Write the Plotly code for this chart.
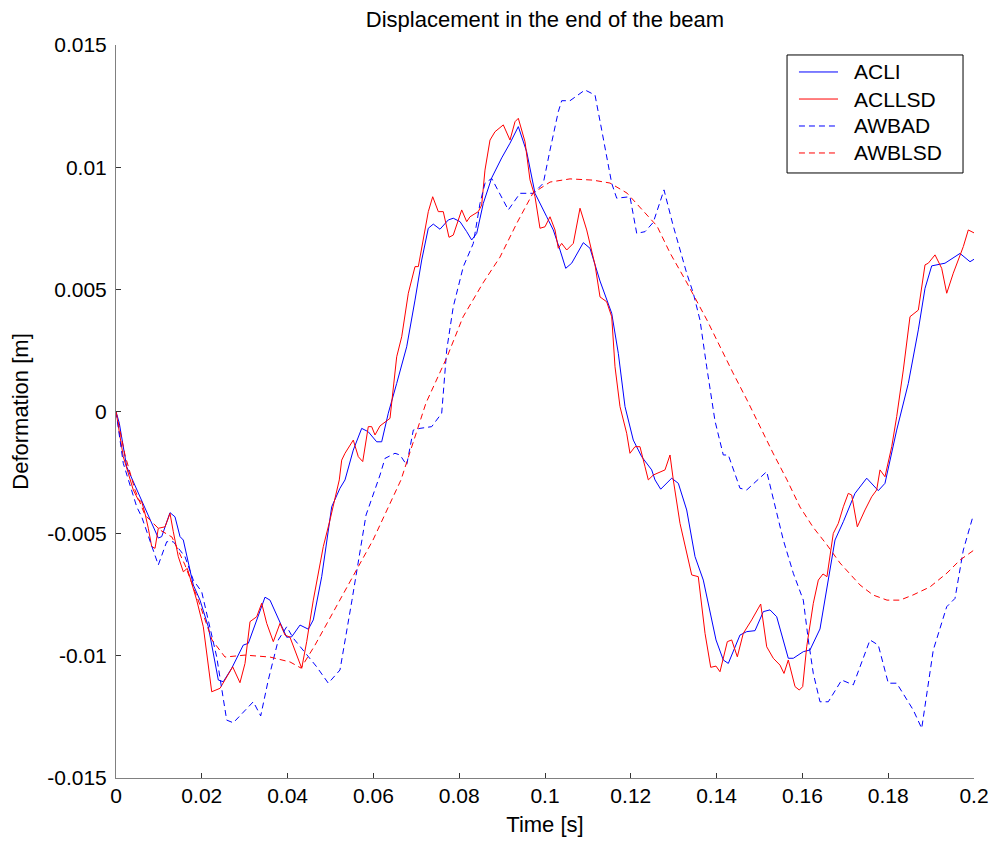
import plotly.graph_objects as go

# ---- ACLI (blue solid) ----
acli_t = [0, 0.00077, 0.00249, 0.00599, 0.00793, 0.00986, 0.01065, 0.01259, 0.01375, 0.01492,
          0.01569, 0.01802, 0.01958, 0.02152, 0.02385, 0.02501, 0.02697, 0.02967, 0.03084, 0.03280,
          0.03473, 0.03590, 0.03823, 0.03979, 0.04096, 0.04289, 0.04483, 0.04599, 0.04795, 0.05028,
          0.05221, 0.05338, 0.05531, 0.05727, 0.05881, 0.06077, 0.06193, 0.06347, 0.06543, 0.06776,
          0.06970, 0.07126, 0.07280, 0.07396, 0.07552, 0.07746, 0.07862, 0.08019, 0.08175, 0.08291,
          0.08408, 0.08562, 0.08757, 0.08991, 0.09184, 0.09378, 0.09573, 0.09767, 0.10040, 0.10193,
          0.10350, 0.10483, 0.10622, 0.10893, 0.11049, 0.11282, 0.11555, 0.11709, 0.11865, 0.12058,
          0.12254, 0.12487, 0.12564, 0.12697, 0.12953, 0.13108, 0.13303, 0.13497, 0.13690, 0.13886,
          0.13986, 0.14156, 0.14273, 0.14545, 0.14702, 0.14895, 0.15089, 0.15245, 0.15401, 0.15671,
          0.15788, 0.16021, 0.16177, 0.16410, 0.16604, 0.16760, 0.16954, 0.17226, 0.17499, 0.17769,
          0.17925, 0.18198, 0.18469, 0.18702, 0.18858, 0.19014, 0.19324, 0.19674, 0.19907, 0.2]
acli_v = [0, -0.00048, -0.00226, -0.00362, -0.00436, -0.00518, -0.00512, -0.00414, -0.00431, -0.00512,
          -0.00526, -0.00710, -0.00772, -0.00881, -0.01099, -0.01106, -0.01051, -0.00956, -0.00949, -0.00853,
          -0.00760, -0.00772, -0.00860, -0.00924, -0.00922, -0.00874, -0.00891, -0.00853, -0.00676, -0.00390,
          -0.00314, -0.00280, -0.00158, -0.00069, -0.00083, -0.00124, -0.00124, -0.00007, 0.00115, 0.00265,
          0.00456, 0.00620, 0.00750, 0.00767, 0.00746, 0.00784, 0.00791, 0.00777, 0.00736, 0.00702,
          0.00729, 0.00852, 0.00956, 0.01038, 0.01098, 0.01166, 0.01063, 0.00893, 0.00797, 0.00743,
          0.00661, 0.00586, 0.00607, 0.00691, 0.00668, 0.00534, 0.00402, 0.00238, 0.00020, -0.00117,
          -0.00185, -0.00239, -0.00280, -0.00318, -0.00273, -0.00294, -0.00403, -0.00594, -0.00690, -0.00853,
          -0.00935, -0.01017, -0.01031, -0.00915, -0.00901, -0.00897, -0.00819, -0.00812, -0.00840, -0.01010,
          -0.01010, -0.00983, -0.00976, -0.00890, -0.00681, -0.00526, -0.00451, -0.00335, -0.00273, -0.00324,
          -0.00294, -0.00076, 0.00115, 0.00334, 0.00504, 0.00596, 0.00607, 0.00647, 0.00613, 0.00623]

# ---- ACLLSD (red solid) ----
acllsd_t = [0, 0.00170, 0.00403, 0.00520, 0.00599, 0.00676, 0.00753, 0.00832, 0.00909, 0.00986,
            0.01142, 0.01259, 0.01336, 0.01452, 0.01569, 0.01662, 0.01765, 0.01881, 0.02035, 0.02231,
            0.02424, 0.02618, 0.02720, 0.02890, 0.03007, 0.03124, 0.03280, 0.03396, 0.03513, 0.03667,
            0.03823, 0.03939, 0.04056, 0.04329, 0.04445, 0.04599, 0.04832, 0.04988, 0.05205, 0.05261,
            0.05338, 0.05531, 0.05648, 0.05751, 0.05881, 0.05960, 0.06037, 0.06154, 0.06387, 0.06543,
            0.06660, 0.06814, 0.06970, 0.07047, 0.07203, 0.07280, 0.07382, 0.07513, 0.07629, 0.07762,
            0.07862, 0.08058, 0.08175, 0.08252, 0.08445, 0.08524, 0.08601, 0.08718, 0.08834, 0.09028,
            0.09184, 0.09301, 0.09378, 0.09534, 0.09650, 0.09767, 0.09883, 0.10000, 0.10117, 0.10233,
            0.10310, 0.10389, 0.10506, 0.10660, 0.10816, 0.10972, 0.11166, 0.11282, 0.11438, 0.11555,
            0.11632, 0.11748, 0.11904, 0.11981, 0.12098, 0.12214, 0.12331, 0.12408, 0.12524, 0.12797,
            0.12914, 0.12991, 0.13147, 0.13303, 0.13420, 0.13573, 0.13730, 0.13863, 0.13986, 0.14079,
            0.14250, 0.14352, 0.14483, 0.14622, 0.14818, 0.15028, 0.15168, 0.15322, 0.15478, 0.15571,
            0.15671, 0.15828, 0.15928, 0.16007, 0.16100, 0.16254, 0.16371, 0.16480, 0.16573, 0.16720,
            0.16837, 0.16954, 0.17070, 0.17149, 0.17280, 0.17459, 0.17615, 0.17732, 0.17809, 0.17925,
            0.18082, 0.18198, 0.18352, 0.18508, 0.18702, 0.18858, 0.18935, 0.19091, 0.19247, 0.19364,
            0.19517, 0.19751, 0.19867, 0.2]
acllsd_v = [0, -0.00185, -0.00321, -0.00362, -0.00369, -0.00417, -0.00478, -0.00553, -0.00560, -0.00478,
            -0.00472, -0.00417, -0.00492, -0.00594, -0.00656, -0.00642, -0.00703, -0.00772, -0.00881, -0.01147,
            -0.01133, -0.01072, -0.01045, -0.01110, -0.01031, -0.00860, -0.00840, -0.00785, -0.00867, -0.00942,
            -0.00867, -0.00915, -0.00924, -0.01051, -0.00942, -0.00772, -0.00553, -0.00444, -0.00280, -0.00199,
            -0.00171, -0.00117, -0.00185, -0.00205, -0.00062, -0.00062, -0.00096, -0.00059, -0.00028, 0.00224,
            0.00306, 0.00484, 0.00593, 0.00593, 0.00750, 0.00818, 0.00879, 0.00818, 0.00818, 0.00713,
            0.00722, 0.00825, 0.00777, 0.00797, 0.00818, 0.00845, 0.00988, 0.01111, 0.01145, 0.01173,
            0.01111, 0.01186, 0.01200, 0.01104, 0.00948, 0.00879, 0.00750, 0.00756, 0.00797, 0.00743,
            0.00668, 0.00688, 0.00661, 0.00688, 0.00832, 0.00743, 0.00600, 0.00469, 0.00449, 0.00388,
            0.00183, 0.00020, -0.00089, -0.00171, -0.00144, -0.00144, -0.00226, -0.00280, -0.00260, -0.00239,
            -0.00178, -0.00280, -0.00458, -0.00580, -0.00669, -0.00676, -0.00908, -0.01047, -0.01042, -0.01065,
            -0.00942, -0.00935, -0.01004, -0.00908, -0.00853, -0.00788, -0.00963, -0.01010, -0.01038, -0.01072,
            -0.01017, -0.01126, -0.01140, -0.01126, -0.00963, -0.00785, -0.00690, -0.00665, -0.00676, -0.00499,
            -0.00458, -0.00390, -0.00335, -0.00342, -0.00472, -0.00403, -0.00349, -0.00321, -0.00239, -0.00267,
            -0.00144, -0.00021, 0.00170, 0.00388, 0.00415, 0.00600, 0.00607, 0.00641, 0.00586, 0.00484,
            0.00566, 0.00675, 0.00743, 0.00731]

# ---- AWBAD (blue dashed) ----
awbad_t = [0, 0.00170, 0.00483, 0.00599, 0.00986, 0.01182, 0.01336, 0.01608, 0.01802, 0.01998,
           0.02347, 0.02580, 0.02734, 0.03200, 0.03373, 0.03550, 0.03783, 0.03979, 0.04133, 0.04359,
           0.04678, 0.04949, 0.05221, 0.05501, 0.05828, 0.06154, 0.06270, 0.06503, 0.06620, 0.06776,
           0.06930, 0.07086, 0.07359, 0.07592, 0.07709, 0.07862, 0.08096, 0.08329, 0.08485, 0.08601,
           0.08757, 0.09145, 0.09417, 0.09727, 0.09960, 0.10117, 0.10310, 0.10389, 0.10583, 0.10932,
           0.11166, 0.11322, 0.11555, 0.11671, 0.11981, 0.12138, 0.12331, 0.12524, 0.12774, 0.12984,
           0.13303, 0.13457, 0.13613, 0.13769, 0.13963, 0.14156, 0.14273, 0.14545, 0.14702, 0.15168,
           0.15555, 0.15788, 0.16021, 0.16138, 0.16254, 0.16410, 0.16604, 0.16916, 0.17186, 0.17576,
           0.17769, 0.18002, 0.18198, 0.18585, 0.18781, 0.19051, 0.19364, 0.19557, 0.19751, 0.19984]
awbad_v = [0, -0.00212, -0.00390, -0.00431, -0.00628, -0.00533, -0.00533, -0.00594, -0.00690, -0.00738,
           -0.01004, -0.01263, -0.01274, -0.01188, -0.01246, -0.01099, -0.00935, -0.00881, -0.00928, -0.00976,
           -0.01045, -0.01112, -0.01058, -0.00772, -0.00424, -0.00260, -0.00192, -0.00171, -0.00178, -0.00219,
           -0.00076, -0.00069, -0.00062, -0.00007, 0.00252, 0.00429, 0.00593, 0.00688, 0.00852, 0.00934,
           0.00954, 0.00825, 0.00893, 0.00893, 0.00934, 0.01070, 0.01227, 0.01272, 0.01272, 0.01316,
           0.01295, 0.01152, 0.00934, 0.00873, 0.00879, 0.00729, 0.00736, 0.00774, 0.00907, 0.00763,
           0.00566, 0.00484, 0.00374, 0.00183, -0.00039, -0.00178, -0.00178, -0.00314, -0.00321, -0.00246,
           -0.00526, -0.00662, -0.00772, -0.00935, -0.01072, -0.01188, -0.01188, -0.01099, -0.01119, -0.00935,
           -0.00956, -0.01112, -0.01112, -0.01222, -0.01297, -0.00976, -0.00799, -0.00765, -0.00567, -0.00424]

# ---- AWBLSD (red dashed) ----
awblsd_t = [0, 0.00210, 0.00443, 0.00676, 0.01026, 0.01305, 0.01608, 0.01958, 0.02238, 0.02541,
            0.03007, 0.03590, 0.04056, 0.04312, 0.04639, 0.05221, 0.05991, 0.06643, 0.07226, 0.07716,
            0.08089, 0.08555, 0.08951, 0.09347, 0.09720, 0.10117, 0.10583, 0.11119, 0.11515, 0.11911,
            0.12284, 0.12611, 0.12914, 0.13310, 0.13776, 0.14079, 0.14382, 0.14709, 0.15012, 0.15315,
            0.15641, 0.15944, 0.16247, 0.16573, 0.16876, 0.17343, 0.17646, 0.17972, 0.18275, 0.18578,
            0.18974, 0.19371, 0.19674, 0.2]
awblsd_v = [0, -0.00178, -0.00321, -0.00424, -0.00485, -0.00514, -0.00628, -0.00792, -0.00935, -0.01005,
            -0.00997, -0.01005, -0.01025, -0.01050, -0.00956, -0.00772, -0.00526, -0.00280, 0.00035, 0.00223,
            0.00387, 0.00526, 0.00632, 0.00772, 0.00894, 0.00939, 0.00952, 0.00947, 0.00935, 0.00894,
            0.00821, 0.00759, 0.00649, 0.00526, 0.00374, 0.00264, 0.00158, 0.00047, -0.00063, -0.00170,
            -0.00280, -0.00391, -0.00473, -0.00546, -0.00620, -0.00710, -0.00751, -0.00772, -0.00772, -0.00751,
            -0.00718, -0.00661, -0.00608, -0.00567]

series_names = ["ACLI", "ACLLSD", "AWBAD", "AWBLSD"]
series_colors = ["#0000ff", "#ff0000", "#0000ff", "#ff0000"]
series_dashes = ["solid", "solid", "6px,4px", "6px,4px"]

x_tickvals = [0, 0.02, 0.04, 0.06, 0.08, 0.1, 0.12, 0.14, 0.16, 0.18, 0.2]
x_ticktext = ["0", "0.02", "0.04", "0.06", "0.08", "0.1", "0.12", "0.14", "0.16", "0.18", "0.2"]
y_tickvals = [-0.015, -0.01, -0.005, 0, 0.005, 0.01, 0.015]
y_ticktext = ["-0.015", "-0.01", "-0.005", "0", "0.005", "0.01", "0.015"]

FONT = "Liberation Sans, Arial, Helvetica, sans-serif"
TICK_SIZE = 21
LABEL_SIZE = 22

fig = go.Figure()
data = [(acli_t, acli_v), (acllsd_t, acllsd_v), (awbad_t, awbad_v), (awblsd_t, awblsd_v)]
for (tt, vv), nm, col, ds in zip(data, series_names, series_colors, series_dashes):
    fig.add_trace(go.Scatter(x=tt, y=vv, mode="lines", name=nm, showlegend=False,
                             line=dict(color=col, width=1, dash=ds)))

# ---- legend box drawn in paper coordinates (MATLAB style) ----
shapes = [dict(type="rect", xref="paper", yref="paper", x0=0.7821, x1=0.9872, y0=0.8254, y1=0.9864,
               line=dict(color="#000000", width=1), fillcolor="white", layer="above")]
annotations = []
row_y = [0.9632, 0.9263, 0.8895, 0.8527]
for ry, nm, col, ds in zip(row_y, series_names, series_colors, series_dashes):
    shapes.append(dict(type="line", xref="paper", yref="paper", x0=0.7960, x1=0.8415, y0=ry, y1=ry,
                       line=dict(color=col, width=1, dash=ds), layer="above"))
    annotations.append(dict(text=nm, xref="paper", yref="paper", x=0.8578, y=ry,
                            xanchor="left", yanchor="middle", showarrow=False,
                            font=dict(family=FONT, size=TICK_SIZE, color="#000000")))

axis_common = dict(showgrid=False, zeroline=False, showline=True, linecolor="#808080",
                   linewidth=1, ticks="inside", ticklen=5, tickcolor="#333333", tickwidth=1,
                   tickfont=dict(family=FONT, size=TICK_SIZE, color="#000000"), mirror=False,
                   automargin=False)

fig.update_layout(
    width=995, height=843,
    margin=dict(l=116, r=21, t=45, b=65, autoexpand=False),
    paper_bgcolor="white", plot_bgcolor="white",
    font=dict(family=FONT, size=TICK_SIZE, color="#000000"),
    title=dict(text="Displacement in the end of the beam", x=0.5, xref="paper",
               y=1 - 19 / 843, yref="container", yanchor="middle",
               font=dict(family=FONT, size=LABEL_SIZE, color="#000000")),
    xaxis=dict(range=[0, 0.2], tickvals=x_tickvals, ticktext=x_ticktext,
               ticklabelstandoff=-1,
               title=dict(text="Time [s]", standoff=10, font=dict(family=FONT, size=LABEL_SIZE)),
               **axis_common),
    yaxis=dict(range=[-0.015, 0.015], tickvals=y_tickvals, ticktext=y_ticktext,
               ticklabelstandoff=4,
               title=dict(text="Deformation [m]", standoff=12, font=dict(family=FONT, size=LABEL_SIZE)),
               **axis_common),
    showlegend=False,
    shapes=shapes,
    annotations=annotations,
)

fig.write_html("out.html")
